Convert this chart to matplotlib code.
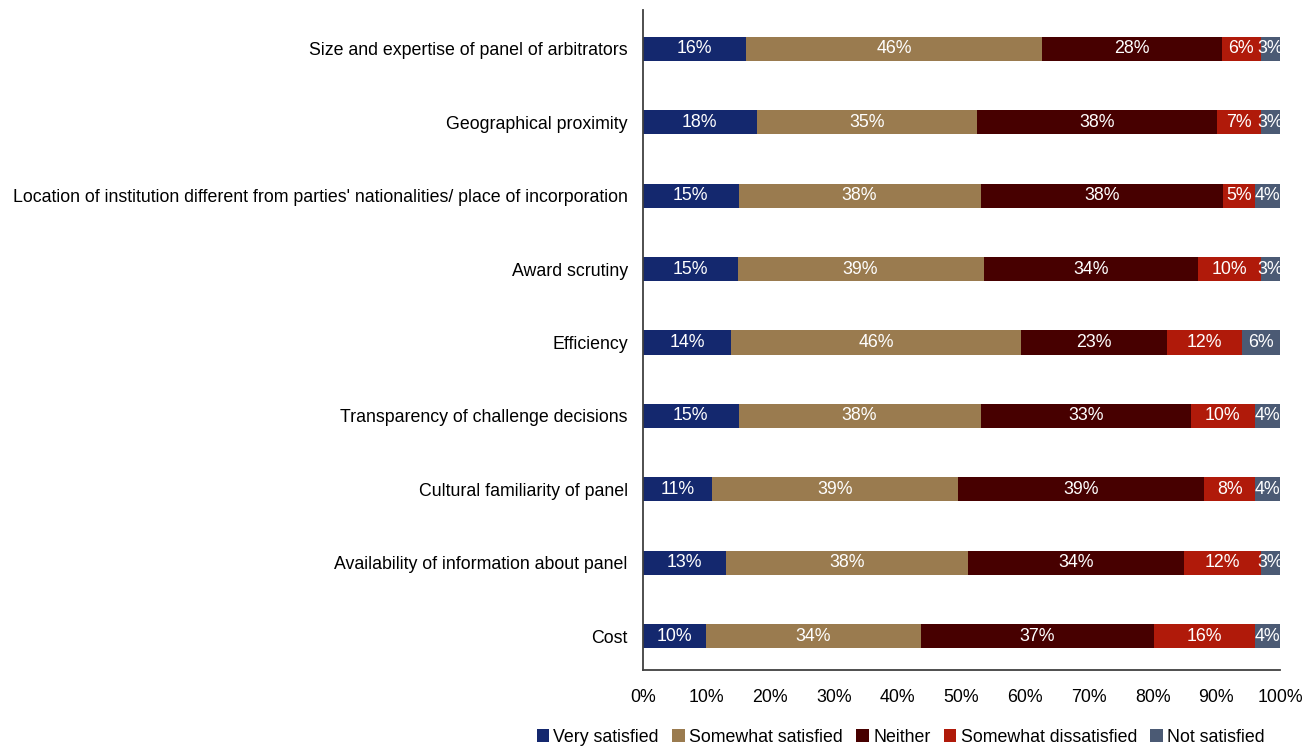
import numpy as np
import matplotlib.pyplot as plt

plt.rcParams['font.family'] = ['Liberation Sans Narrow', 'Liberation Sans', 'DejaVu Sans']

categories = [
    'Size and expertise of panel of arbitrators',
    'Geographical proximity',
    "Location of institution different from parties' nationalities/ place of incorporation",
    'Award scrutiny',
    'Efficiency',
    'Transparency of challenge decisions',
    'Cultural familiarity of panel',
    'Availability of information about panel',
    'Cost',
]
series = ['Very satisfied', 'Somewhat satisfied', 'Neither',
          'Somewhat dissatisfied', 'Not satisfied']
very_satisfied = [16, 18, 15, 15, 14, 15, 11, 13, 10]
somewhat_satisfied = [46, 35, 38, 39, 46, 38, 39, 38, 34]
neither = [28, 38, 38, 34, 23, 33, 39, 34, 37]
somewhat_dissatisfied = [6, 7, 5, 10, 12, 10, 8, 12, 16]
not_satisfied = [3, 3, 4, 3, 6, 4, 4, 3, 4]

colors = ['#14286e', '#9a7b4f', '#470000', '#b01a0a', '#4b5a74']

values = np.array([very_satisfied, somewhat_satisfied, neither,
                   somewhat_dissatisfied, not_satisfied], dtype=float)
# 100% stacked: each row scaled to its own total
shares = values / values.sum(axis=0) * 100

fs = 12.8

fig = plt.figure(figsize=(13.13, 7.46), dpi=100)
ax = fig.add_axes([0.4897, 0.1019, 0.4852, 0.8847])

y = np.arange(len(categories))
left = np.zeros(len(categories))
for i, name in enumerate(series):
    bars = ax.barh(y, shares[i], left=left, height=0.33, color=colors[i], label=name)
    for j, b in enumerate(bars):
        ax.text(left[j] + shares[i][j] / 2, y[j], f'{int(values[i][j])}%',
                ha='center', va='center', color='white', fontsize=fs)
    left += shares[i]

ax.set_xlim(0, 100)
ax.set_ylim(8.46, -0.53)
ax.set_yticks(y)
ax.set_yticklabels(categories, fontsize=fs)
ax.set_xticks(np.arange(0, 101, 10))
ax.set_xticklabels([f'{t}%' for t in range(0, 101, 10)], fontsize=fs)
ax.tick_params(axis='both', length=0)
ax.tick_params(axis='y', pad=11)
ax.tick_params(axis='x', pad=14)
for s in ['top', 'right']:
    ax.spines[s].set_visible(False)
ax.spines['left'].set_color('#404040')
ax.spines['bottom'].set_color('#404040')
ax.spines['left'].set_linewidth(1.3)
ax.spines['bottom'].set_linewidth(1.3)

fig.legend(loc='center', bbox_to_anchor=(0.686, 0.012), ncol=5, frameon=False,
           fontsize=fs, handlelength=0.7, handleheight=0.7, handletextpad=0.25,
           columnspacing=0.75)

fig.savefig('out.png', dpi=100)
